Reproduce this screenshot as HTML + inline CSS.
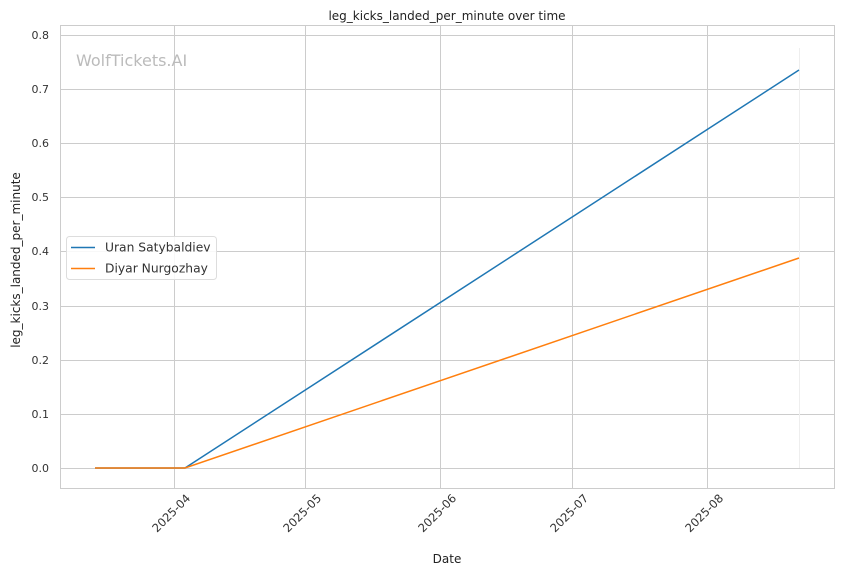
<!DOCTYPE html>
<html><head><meta charset="utf-8"><style>body{margin:0;background:#fff}svg{display:block}</style></head>
<body>
<svg width="844" height="575" viewBox="0 0 844 575" xmlns="http://www.w3.org/2000/svg" font-family="DejaVu Sans, Liberation Sans, sans-serif">
<rect width="844" height="575" fill="#fff"/>
<g stroke="#cccccc" stroke-width="1">
<line x1="60" x2="835" y1="468.5" y2="468.5"/>
<line x1="60" x2="835" y1="414.5" y2="414.5"/>
<line x1="60" x2="835" y1="360.5" y2="360.5"/>
<line x1="60" x2="835" y1="306.5" y2="306.5"/>
<line x1="60" x2="835" y1="251.5" y2="251.5"/>
<line x1="60" x2="835" y1="197.5" y2="197.5"/>
<line x1="60" x2="835" y1="143.5" y2="143.5"/>
<line x1="60" x2="835" y1="89.5" y2="89.5"/>
<line x1="60" x2="835" y1="35.5" y2="35.5"/>
<line x1="174.5" x2="174.5" y1="25" y2="489"/>
<line x1="305.5" x2="305.5" y1="25" y2="489"/>
<line x1="440.5" x2="440.5" y1="25" y2="489"/>
<line x1="572.5" x2="572.5" y1="25" y2="489"/>
<line x1="707.5" x2="707.5" y1="25" y2="489"/>
</g>
<line x1="799.5" x2="799.5" y1="48" y2="468" stroke="#eeeeee"/>
<rect x="60.5" y="25.5" width="774" height="463" fill="none" stroke="#cccccc"/>
<text x="76" y="66" font-size="16" fill="#bbbbbb">WolfTickets.AI</text>
<polyline points="95,468 185,468 799,70" fill="none" stroke="#1f77b4" stroke-width="1.5"/>
<polyline points="95,468 185,468 799,258" fill="none" stroke="#ff7f0e" stroke-width="1.5"/>
<g font-size="11" fill="#333" text-anchor="end">
<text x="49" y="472">0.0</text><text x="49" y="418">0.1</text><text x="49" y="364">0.2</text>
<text x="49" y="310">0.3</text><text x="49" y="255">0.4</text><text x="49" y="201">0.5</text>
<text x="49" y="147">0.6</text><text x="49" y="93">0.7</text><text x="49" y="39">0.8</text>
</g>
<g font-size="11.5" fill="#333" text-anchor="end">
<text transform="translate(191,499) rotate(-45)">2025-04</text>
<text transform="translate(322,499) rotate(-45)">2025-05</text>
<text transform="translate(457,499) rotate(-45)">2025-06</text>
<text transform="translate(589,499) rotate(-45)">2025-07</text>
<text transform="translate(724,499) rotate(-45)">2025-08</text>
</g>
<text x="447" y="563" font-size="12" fill="#222" text-anchor="middle">Date</text>
<text transform="translate(20,260) rotate(-90)" font-size="12" fill="#222" text-anchor="middle">leg_kicks_landed_per_minute</text>
<text x="447" y="20" font-size="12" fill="#222" text-anchor="middle">leg_kicks_landed_per_minute over time</text>
<rect x="66.5" y="236.5" width="150" height="43" rx="3" fill="#fff" fill-opacity="0.85" stroke="#dddddd"/>
<line x1="71" x2="95" y1="247.5" y2="247.5" stroke="#1f77b4" stroke-width="1.5"/>
<line x1="71" x2="95" y1="268.5" y2="268.5" stroke="#ff7f0e" stroke-width="1.5"/>
<text x="105" y="251.5" font-size="12.3" fill="#333">Uran Satybaldiev</text>
<text x="105" y="272.5" font-size="12.3" fill="#333">Diyar Nurgozhay</text>
</svg>
</body></html>
